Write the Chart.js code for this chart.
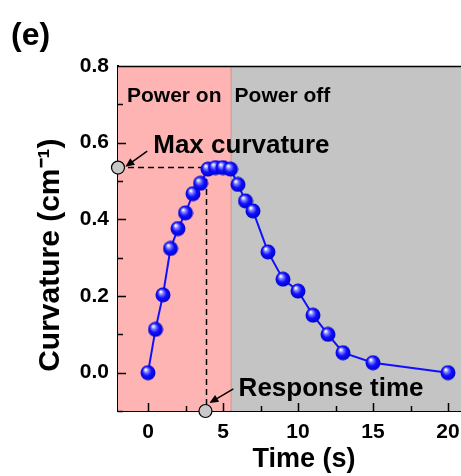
<!DOCTYPE html>
<html>
<head>
<meta charset="utf-8">
<script src="https://cdn.jsdelivr.net/npm/chart.js@4.4.0/dist/chart.umd.min.js"></script>
<style>
  html, body { margin: 0; background: #fff; overflow: hidden; }
  canvas { display: block; }
</style>
</head>
<body>
<!-- the figure is cropped on the right, so the canvas runs past the window -->
<canvas id="curveChart" width="490" height="476"></canvas>
<script>
// data
var timeS = [0, 0.5, 1, 1.5, 2, 2.5, 3, 3.5, 4, 4.5, 5, 5.5, 6, 6.5, 7, 8, 9, 10, 11, 12, 13, 15, 20];
var curvature = [0.0, 0.113, 0.203, 0.324, 0.376, 0.417, 0.467, 0.494, 0.531, 0.535, 0.535, 0.531,
                 0.491, 0.448, 0.422, 0.315, 0.244, 0.213, 0.150, 0.100, 0.052, 0.026, 0.0];
var maxCurvature = 0.535;
var responseTime = 3.9;
var powerOffAt = 5.5;
var xTicks = [0, 5, 10, 15, 20];
var yTicks = [0.0, 0.2, 0.4, 0.6, 0.8];
var xRange = [-2, 22.8];
var yRange = [-0.1, 0.8];

var FONT = '"Liberation Sans", Arial, sans-serif';

// shaded sphere used as marker
function makeSphere(d) {
    var c = document.createElement('canvas');
    c.width = d; c.height = d;
    var g = c.getContext('2d');
    var r = d / 2;
    var grad = g.createRadialGradient(r * 0.7, r * 0.6, 0.5, r, r, r);
    grad.addColorStop(0, '#ffffff');
    grad.addColorStop(0.25, '#7a7aff');
    grad.addColorStop(0.55, '#1010ff');
    grad.addColorStop(1, '#0000c8');
    g.fillStyle = grad;
    g.beginPath();
    g.arc(r, r, r - 0.5, 0, Math.PI * 2);
    g.fill();
    return c;
}
var sphere = makeSphere(16);

function toPx(chart, x, y) {
    return [chart.scales.x.getPixelForValue(x), chart.scales.y.getPixelForValue(y)];
}

function arrow(ctx, x1, y1, x2, y2) {
    var a = Math.atan2(y2 - y1, x2 - x1);
    var len = 9;
    ctx.beginPath();
    ctx.moveTo(x1, y1);
    ctx.lineTo(x2 - Math.cos(a) * len * 0.8, y2 - Math.sin(a) * len * 0.8);
    ctx.stroke();
    ctx.beginPath();
    ctx.moveTo(x2, y2);
    ctx.lineTo(x2 - len * Math.cos(a) + 4 * Math.sin(a), y2 - len * Math.sin(a) - 4 * Math.cos(a));
    ctx.lineTo(x2 - len * Math.cos(a) - 4 * Math.sin(a), y2 - len * Math.sin(a) + 4 * Math.cos(a));
    ctx.closePath();
    ctx.fill();
}

// background regions (power on / off)
var regionsPlugin = {
    id: 'regions',
    beforeDatasetsDraw: function(chart) {
        var ctx = chart.ctx, a = chart.chartArea;
        var xs = chart.scales.x;
        var split = xs.getPixelForValue(powerOffAt);
        ctx.save();
        ctx.fillStyle = '#ffb4b4';
        ctx.fillRect(a.left, a.top, split - a.left, a.bottom - a.top);
        ctx.fillStyle = '#c4c4c4';
        ctx.fillRect(split, a.top, a.right - split, a.bottom - a.top);
        ctx.strokeStyle = '#f08080';
        ctx.lineWidth = 1;
        ctx.beginPath();
        ctx.moveTo(split + 0.5, a.top);
        ctx.lineTo(split + 0.5, a.bottom);
        ctx.stroke();
        ctx.restore();
    }
};

// inner tick marks, top frame line, labels and arrows
var decoPlugin = {
    id: 'deco',
    afterDatasetsDraw: function(chart) {
        var ctx = chart.ctx, a = chart.chartArea;
        var xs = chart.scales.x, ys = chart.scales.y;
        ctx.save();
        ctx.strokeStyle = '#000';
        ctx.lineWidth = 1.5;
        ctx.beginPath();
        ctx.moveTo(a.left, a.top + 0.5);
        ctx.lineTo(a.right, a.top + 0.5);
        for (var x = 0; x <= xRange[1]; x += 2.5) {
            var px = Math.round(xs.getPixelForValue(x)) + 0.5;
            var l = (x % 5 === 0) ? 8 : 5;
            ctx.moveTo(px, a.bottom);
            ctx.lineTo(px, a.bottom - l);
        }
        for (var i = -1; i <= 8; i++) {
            var py = Math.round(ys.getPixelForValue(i / 10)) + 0.5;
            var ly = (i % 2 === 0) ? 8 : 5;
            ctx.moveTo(a.left, py);
            ctx.lineTo(a.left + ly, py);
        }
        ctx.stroke();

        ctx.fillStyle = '#000';
        ctx.textBaseline = 'alphabetic';
        ctx.textAlign = 'left';
        ctx.font = 'bold 21px ' + FONT;
        var p = toPx(chart, -1.4, 0.707);
        ctx.fillText('Power on', p[0], p[1]);
        p = toPx(chart, 5.77, 0.707);
        ctx.fillText('Power off', p[0], p[1]);
        ctx.font = 'bold 26px ' + FONT;
        p = toPx(chart, 0.35, 0.574);
        ctx.fillText('Max curvature', p[0], p[1]);
        p = toPx(chart, 6.04, -0.061);
        ctx.fillText('Response time', p[0], p[1]);

        ctx.lineWidth = 1.5;
        var s = toPx(chart, -0.05, 0.578), e = toPx(chart, -1.51, 0.537);
        arrow(ctx, s[0], s[1], e[0], e[1]);
        s = toPx(chart, 5.69, -0.0425); e = toPx(chart, 4.09, -0.079);
        arrow(ctx, s[0], s[1], e[0], e[1]);

        ctx.font = 'bold 32px ' + FONT;
        ctx.fillText('(e)', 11, 45);
        ctx.restore();
    }
};

var ctx = document.getElementById('curveChart').getContext('2d');
var myChart = new Chart(ctx, {
    type: 'scatter',
    data: {
        datasets: [{
            // gray marker circles for max curvature / response time
            data: [{x: xRange[0], y: maxCurvature}, {x: responseTime - 0.07, y: yRange[0]}],
            showLine: false,
            pointRadius: 6.5,
            pointBackgroundColor: '#c8c8c8',
            pointBorderColor: '#000',
            pointBorderWidth: 1.2,
            clip: false,
            order: 0
        }, {
            // dashed guide lines
            data: [{x: xRange[0], y: maxCurvature}, {x: responseTime, y: maxCurvature}, {x: responseTime, y: yRange[0]}],
            showLine: true,
            borderColor: '#000',
            borderWidth: 1.5,
            borderDash: [6, 4],
            pointRadius: 0,
            order: 2
        }, {
            label: 'Curvature',
            data: timeS.map(function(t, i) { return {x: t, y: curvature[i]}; }),
            showLine: true,
            borderColor: '#1010ff',
            borderWidth: 2,
            pointStyle: sphere,
            pointRadius: 8,
            order: 1
        }]
    },
    options: {
        responsive: false,
        devicePixelRatio: 1,
        animation: false,
        layout: { autoPadding: false, padding: { top: 66, left: 0, right: 0, bottom: 0 } },
        plugins: { legend: { display: false }, tooltip: { enabled: false } },
        scales: {
            x: {
                type: 'linear',
                min: xRange[0],
                max: xRange[1],
                grid: { display: false },
                border: { display: true, color: '#000', width: 2 },
                afterBuildTicks: function(scale) {
                    scale.ticks = xTicks.map(function(v) { return {value: v}; });
                },
                afterFit: function(scale) {
                    scale.height = 65;
                },
                ticks: {
                    color: '#000',
                    padding: 1,
                    maxRotation: 0,
                    font: { family: FONT, size: 21, weight: 'bold' }
                },
                title: {
                    display: true,
                    text: 'Time (s)',
                    color: '#000',
                    padding: { top: 0, bottom: 0 },
                    font: { family: FONT, size: 27, weight: 'bold' }
                }
            },
            y: {
                min: yRange[0],
                max: yRange[1],
                grid: { display: false },
                border: { display: true, color: '#000', width: 2 },
                afterBuildTicks: function(scale) {
                    scale.ticks = yTicks.map(function(v) { return {value: v}; });
                },
                afterFit: function(scale) {
                    scale.width = 118;
                },
                ticks: {
                    color: '#000',
                    padding: 1,
                    font: { family: FONT, size: 21, weight: 'bold' },
                    callback: function(v) { return v.toFixed(1); }
                },
                title: {
                    display: true,
                    text: 'Curvature (cm\u207B\u00B9)    ',
                    color: '#000',
                    padding: { top: 33, bottom: 0 },
                    font: { family: FONT, size: 30, weight: 'bold' }
                }
            }
        }
    },
    plugins: [regionsPlugin, decoPlugin]
});
</script>
</body>
</html>
